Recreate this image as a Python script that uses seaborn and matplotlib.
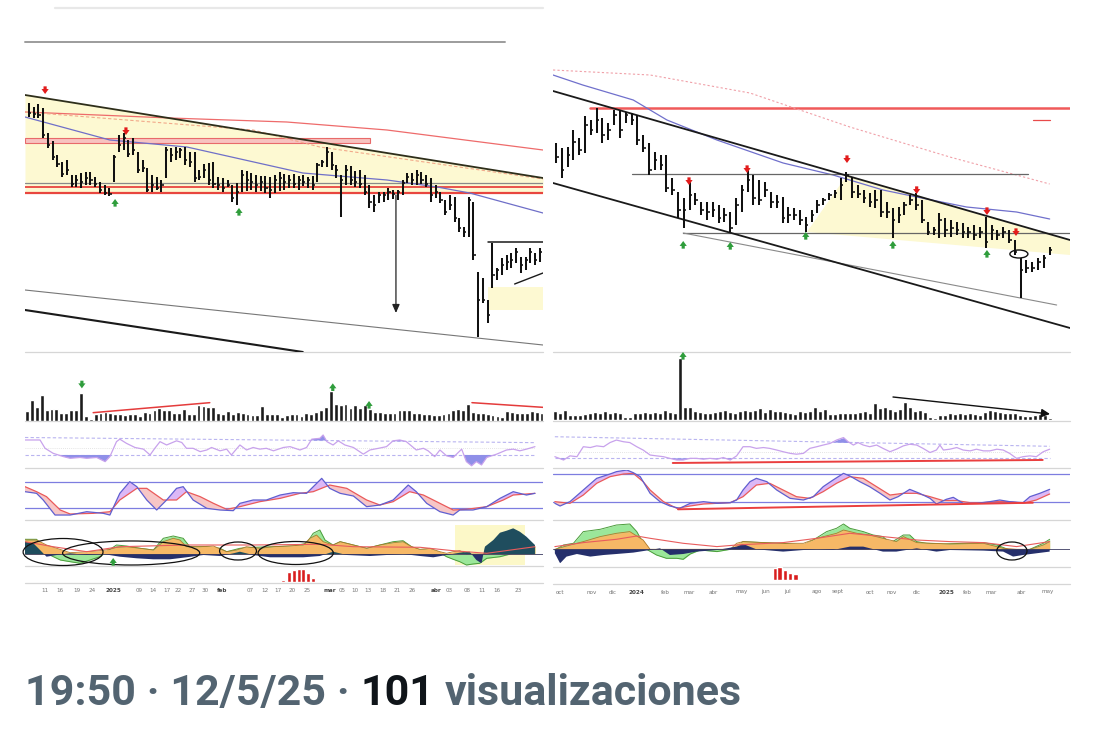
import numpy as np
import matplotlib
matplotlib.use("Agg")
import matplotlib.pyplot as plt
import seaborn as sns
from matplotlib.patches import Ellipse, Rectangle, Polygon
from matplotlib.lines import Line2D
from matplotlib import font_manager
from matplotlib.transforms import blended_transform_factory

# ===================== DATA =====================
# ---- left chart (daily) ----
L_HIGH = [257,253,256,252,227,219,205,198,200,185,
          185,187,188,188,183,178,175,172,205,225,
          227,220,222,208,200,192,185,183,180,213,
          212,213,212,213,208,208,190,196,197,198,
          183,182,180,175,177,190,189,187,185,184,
          184,183,185,188,186,185,186,184,185,183,
          184,197,200,213,208,195,185,195,194,189,
          190,185,175,165,168,168,172,170,170,180,
          187,187,190,188,185,182,175,168,160,165,
          163,142,133,163,158,88,82,60,117,92,
          102,105,107,112,103,103,112,107,112]
L_LOW = [243,242,242,222,212,200,193,183,185,173,
         173,172,175,175,173,167,165,164,178,208,
         210,203,205,187,188,168,168,170,168,182,
         198,200,202,195,193,178,180,182,175,172,
         170,168,173,158,155,168,169,170,168,169,
         167,162,167,169,170,172,172,170,174,172,
         170,178,193,193,190,182,143,175,175,173,
         172,165,152,148,157,158,160,161,160,165,
         177,175,175,176,173,158,162,157,145,150,
         138,128,123,123,100,23,57,37,72,80,
         85,90,92,97,87,90,97,95,98]
L_CLOSE = [247,246,245,225,215,203,196,186,190,176,
           180,178,182,180,176,170,167,166,203,215,
           222,206,210,190,192,170,175,172,175,210,
           205,208,210,200,198,182,183,190,180,176,
           175,172,175,162,168,185,180,178,175,178,
           172,170,180,182,178,180,176,180,178,180,
           175,195,198,208,195,190,180,190,180,178,
           176,168,158,155,165,165,168,166,168,177,
           183,180,185,180,176,165,168,160,148,155,
           142,132,128,160,105,60,60,45,85,90,
           95,98,100,108,95,100,108,100,108]
L_VOL = [30,62,42,78,32,35,35,25,25,32,32,
         85,15,5,22,25,27,25,20,22,18,
         22,20,15,28,25,32,38,32,32,25,
         25,35,22,22,48,45,42,42,25,22,
         30,22,28,25,22,18,18,45,22,20,20,
         12,18,20,20,15,25,22,28,32,42,
         90,50,47,50,40,47,40,47,35,28,
         28,25,25,25,32,32,32,25,25,22,
         20,18,18,20,25,32,35,32,50,28,
         25,25,22,18,15,12,30,28,25,25,
         25,30,28,25]
L_TREND_X, L_TREND_Y = [-0.85, 108.7], [265, 182]
L_MA200_X, L_MA200_Y = [-0.85, 29.8, 54.5, 75.7, 108.7], [248, 242, 238, 230, 210]
L_MADASH_X, L_MADASH_Y = [-0.85, 47.4, 61.5, 108.7], [248, 230, 213, 181]
L_MA50_X = [-0.85, 17.1, 33.4, 57.9, 75.7, 86.3, 93.2, 108.7]
L_MA50_Y = [243, 220, 213, 187, 180, 173, 167, 147]
L_SUPPORT_GRAY, L_SUPPORT_RED1, L_SUPPORT_RED2 = 177, 173, 167
L_ZONE = (-0.85, 72.1, 217, 222)
L_LOW_THIN_X, L_LOW_THIN_Y = [-0.85, 108.7], [70, 15]
L_LOW_THICK_X, L_LOW_THICK_Y = [-0.85, 57.9], [50, 8]
L_TARGET = (77.6, 165, 47)
L_TRI_X, L_TRI_Y = [97, 108.7], [118, 118]
L_RISE_X, L_RISE_Y = [102.7, 108.7], [76, 87]
L_BOX = (97, 108.7, 50, 73)
L_RED_ARROWS = [(3.4, 266), (20.5, 225)]
L_GREEN_ARROWS = [(18.2, 161), (44.4, 152)]
L_VOL_LINES = [([13.5, 37.3], [25, 55]), ([90.8, 105.3], [55, 41])]
L_VOL_ARROWS = [(11.2, 98, False), (62.4, 113, True), (69.8, 60, True)]

L_RSI_X = [-0.85,0.21,2.33,3.4,5.1,7.3,8.7,10.8,12.2,14.3,16.1,17.1,18.5,19.2,20.6,22.4,24.2,25.6,
           26.6,27.7,29.1,31.2,32.3,33.3,34.7,36.2,37.6,38.6,40.4,41.8,42.8,44.6,46.0,47.4,48.8,
           50.2,51.7,53.8,55.2,57.3,58.7,59.8,61.5,62.2,63.0,64.3,65.4,66.8,68.6,70.7,72.1,73.9,
           75.6,77.0,78.4,79.8,81.9,83.4,84.4,85.8,86.9,88.3,89.7,91.5,92.5,93.6,94.6,95.7,96.8,
           98.9,101.0,102.4,103.8,105.2,107.0]
L_RSI_V = [70,70,70,50,38,30,26,28,26,28,18,30,66,72,62,52,48,34,50,66,58,68,64,50,50,42,46,52,
           44,48,34,58,46,52,48,50,44,52,54,46,52,72,74,82,66,58,68,58,52,36,46,50,54,68,70,66,
           46,50,44,30,46,32,28,48,18,8,18,10,28,36,46,48,44,48,54]
L_RSI_UP, L_RSI_LO = (76, 63.6), 34

L_K_X = [-0.85,1.6,3.0,5.5,8.7,12.2,15.7,17.1,19.2,21.3,22.8,24.9,27.0,29.1,31.2,32.6,34.7,37.6,
         40.4,43.2,44.6,47.4,50.2,53.1,55.9,58.7,61.9,63.6,65.8,68.6,71.4,74.2,77.0,80.2,81.9,
         84.1,86.9,89.7,91.1,93.9,96.8,99.6,102.4,105.2,107.0]
L_K_V = [57.5,53.8,38.8,5,5,12.5,8.8,5,53.8,80,68.8,38.8,16.3,38.8,65,68.8,38.8,20,16.3,14.8,
         31.3,38.8,38.8,50,55.3,53.8,87.5,65,53.8,47.8,23.8,27.5,38.8,72.5,57.5,31.3,12.5,5,16.3,
         16.3,23.8,42.5,57.5,50,53.8]
L_D_X = [-0.85,1.6,3.7,6.6,8.7,13.6,17.1,19.2,22.8,24.9,28.4,31.2,33.3,36.2,39.0,41.8,44.6,48.8,
         53.1,57.3,60.1,63.6,67.2,71.4,74.2,77.0,80.5,83.4,86.9,89.7,92.5,96.8,100.3,102.4,105.2,107.0]
L_D_V = [68.8,57.5,46.3,16.3,7.3,8.8,12.5,38.8,65,65,38.8,38.8,57.5,46.3,31.3,17.8,23.8,35,42.5,
         53.8,57.5,72.5,65,38.8,27.5,35,57.5,50,31.3,16.3,17.8,23.8,38.8,50,52.3,53.8]

L_OSC_O_X = [-0.85,1.6,3.7,5.85,8.7,12.2,15.0,17.1,18.5,20.6,23.5,26.3,28.4,30.5,31.9,33.3,36.2,
             39.0,41.8,43.9,46.0,48.8,51.7,54.5,58.0,59.4,60.8,62.2,64.3,65.8,68.6,71.4,74.2,77.0,
             79.1,80.9,82.7,84.8,86.9,88.3,89.7,91.1,92.5,93.9,96.8,99.6,102.4,105.2,107.0]
L_OSC_O_V = [14,14,9,5.7,1.3,2.3,3.3,4.7,6.7,7.3,5.7,4,12.3,15.7,14,7.3,7.3,8,2.3,4,7.3,5.7,7.3,
             8,9,15.7,19,12.3,9,12.3,9,5.7,9,11.3,12.3,7.3,4.7,5.7,2.3,0.7,2.3,3.3,0,0,0,1.3,3.3,
             5.7,6.7]
L_OSC_G_X = [-0.85,1.6,3.0,4.4,6.6,8.7,10.8,12.9,15.0,16.4,18.5,20.6,23.5,26.3,28.4,30.5,32.6,
             34.0,37.6,40.4,41.8,44.6,47.4,51.7,55.9,58.7,60.1,61.5,62.6,64.3,65.8,68.6,71.4,74.2,
             77.0,79.1,80.9,82.7,84.8,86.9,88.3,89.7,91.1,92.5,93.9,95.3,96.8,99.6,102.4,105.2,107.0]
L_OSC_G_V = [14.7,14.7,7.3,-1,-6,-7.7,-9.3,-6,-2.7,2.3,9,8,5.7,4,15.7,18,15.7,7.3,7.3,5.7,2.3,
             5.7,6.7,7.3,8,10.7,20.7,24,14,9,12.3,9,5.7,9,12.3,13.3,7.3,4,4.7,1.3,-2.7,-5.3,-7.7,
             -11,-10,-9.3,-4.3,-2.7,0.7,4.7,6.7]
L_OSC_N_X = [-0.85,0.92,2.33,3.7,5.85,8.7,12.2,15.7,19.2,22.8,26.3,29.8,33.3,36.9,40.4,43.2,44.6,
             47.4,51.0,54.5,58.0,61.5,64.3,67.2,72.1,75.6,79.1,82.7,85.5,88.3,91.1,93.2,94.6,95.7,
             96.4,98.2,99.6,101.0,102.4,103.8,105.2,107.0]
L_OSC_N_V = [12.3,10.7,4,-2.7,-1,0.7,-1,0,-2.7,-4.3,-5.3,-5.3,-3.3,-1,-2,0.7,2.3,-1,-3.3,-3.3,
             -3.3,-2,2.3,-1,-2,-1,0,-2,-3.3,-1,1.3,2.3,-6,-9.3,7.3,14,21.3,23.3,25.7,22.3,17.3,9]
L_OSC_R_X = [-0.85,5.1,12.2,19.2,33.3,47.4,61.5,68.6,82.7,89.7,96.8,107.0]
L_OSC_R_V = [12.3,7.3,2.3,7.3,9,9,9.7,7.3,6.7,3.3,0.7,7.3]
L_ELLIPSES = [(7.2, 2, 16.9, 27), (21.6, 1, 29, 24), (44.2, 3, 7.8, 18), (56.4, 1, 15.9, 23)]
L_OSC_BOX = (90.1, 104.9, -11, 29)
L_OSC_ARROW = (17.8, -4)

L_HIST_X = [53.8, 54.9, 56.0, 57.0, 58.0, 59.1, 60.1, 61.2, 64.7, 65.7, 66.7]
L_HIST_H = [1.7, 10, 11.7, 12.7, 13.3, 9.3, 4, 0.7, 1.5, 1.5, 1.0]

L_TICK_POS = [3.4,6.6,10.1,13.3,17.8,23.3,26.2,29.2,31.5,34.5,37.2,40.8,46.7,49.9,52.6,55.6,58.8,
              63.6,66.2,68.9,71.7,74.8,77.8,81.0,86.2,88.8,92.6,95.8,98.9,103.4]
L_TICK_LBL = ['11','16','19','24','2025','09','14','17','22','27','30','feb','07','12','17','20',
              '25','mar','05','10','13','18','21','26','abr','03','08','11','16','23']
L_BOLD = {'2025', 'feb', 'mar', 'abr'}

# ---- right chart (weekly) ----
R_HIGH = [227,222,223,240,232,254,250,262,252,247,
          260,260,258,257,255,235,227,218,215,215,
          192,178,172,188,177,168,168,168,165,162,
          158,172,185,200,195,190,188,178,175,173,
          163,162,160,153,160,170,172,177,180,192,
          198,193,185,180,177,180,180,168,162,163,
          168,175,177,170,148,143,157,152,150,148,
          147,143,145,143,153,145,140,143,140,130,
          112,110,108,112,115,123]
R_LOW = [207,192,203,210,215,217,235,237,227,230,
         245,232,247,245,225,218,195,200,200,178,
         175,152,142,160,165,155,150,153,147,148,
         138,145,158,178,165,165,173,162,162,147,
         147,150,145,138,148,157,165,170,172,170,
         188,172,172,167,163,162,153,152,132,147,
         155,165,160,147,135,135,132,133,133,135,
         132,132,130,132,122,130,130,132,127,115,
         72,97,98,100,102,115]
R_CLOSE = [213,200,215,228,220,245,240,250,235,240,
           255,240,255,250,230,222,200,210,205,182,
           180,160,160,175,170,160,158,160,152,155,
           142,165,180,190,172,170,180,168,168,152,
           155,155,150,145,155,165,170,175,177,185,
           195,178,176,172,168,170,158,158,150,155,
           165,170,165,150,138,140,150,140,142,140,
           138,138,135,138,128,140,135,138,130,118,
           100,102,102,108,112,120]
R_VOL = [27,20,30,15,15,15,18,20,25,20,27,20,25,22,8,10,20,22,25,22,
         25,22,30,25,20,185,38,38,28,25,20,22,25,28,30,25,22,27,30,28,
         30,35,25,32,27,27,25,20,18,27,25,28,40,27,32,17,17,20,20,22,
         22,25,27,22,50,35,40,32,28,32,55,38,27,30,25,10,5,15,15,20,
         17,22,17,20,17,15,25,30,27,25,20,20,20,15,12,12,15,17,15,5]
R_RES_X, R_RES_Y = [5.85, 88.5], [262, 262]
R_RES2_X, R_RES2_Y = [82.1, 85.0], [250, 250]
R_MA200_X, R_MA200_Y = [-0.52, 16.2, 33.4, 50.6, 67.8, 85.0], [300, 295, 277, 243, 213, 186]
R_MA50_X = [-0.52, 4.6, 13.3, 19.1, 27.7, 39.1, 47.7, 56.3, 62.1, 70.7, 79.3, 85.0]
R_MA50_Y = [295, 285, 270, 250, 230, 207, 195, 180, 173, 163, 158, 151]
R_CH_UP_X, R_CH_UP_Y = [-0.52, 88.5], [279, 130]
R_CH_DN_X, R_CH_DN_Y = [-0.52, 88.5], [187, 42]
R_H1_X, R_H1_Y = [13.1, 81.2], [196, 196]
R_H2_X, R_H2_Y = [21.9, 88.5], [137, 137]
R_THIN_X, R_THIN_Y = [21.9, 86.2], [137, 65]
R_ZONE_X, R_ZONE_Y = [43.2, 50.1, 88.5, 88.5], [138, 195, 130, 115]
R_CIRCLE = (79.7, 116, 3.1, 8)
R_RED_ARROWS = [(22.9, 185), (32.9, 197), (50.1, 207), (62.1, 176), (74.2, 155), (79.2, 134)]
R_GREEN_ARROWS = [(21.9, 129), (30.0, 128), (43.0, 138), (58.0, 129), (74.2, 120)]
R_VOL_LINE = ([67.6, 99], [69, 18])
R_VOL_ARROW = (25.6, 204)

R_RSI_X = [-0.2,1.3,2.4,3.6,4.7,5.9,7.0,8.2,9.3,10.4,11.6,12.7,13.9,15.0,16.2,17.3,18.5,19.6,20.8,
           21.9,23.1,24.2,25.4,26.5,27.7,28.8,30.0,31.1,32.2,33.4,34.5,35.7,36.8,38.0,39.1,40.3,
           41.4,42.6,43.7,44.9,46.0,47.2,48.3,49.5,50.3,51.2,52.0,52.9,54.0,55.2,56.3,57.5,58.6,
           59.8,60.9,62.1,63.2,64.4,65.5,66.1,66.7,67.8,69.0,70.1,71.3,72.4,73.6,74.7,75.9,77.0,
           78.1,79.3,80.4,81.6,82.7,83.9,85.0]
R_RSI_V = [38,30,40,38,62,60,64,62,72,78,74,72,62,54,42,40,38,34,30,30,34,34,32,34,32,36,30,40,
           62,62,58,60,58,54,50,46,44,46,58,62,66,70,78,84,74,66,72,66,62,66,58,50,56,64,68,66,
           58,48,54,66,54,56,60,54,52,56,52,52,56,54,46,34,38,40,38,50,56]
R_RSI_UP, R_RSI_LO = (86, 63), 34
R_RSI_LINE = ([20.1, 83.8], [22.9, 30.1])

R_K_X = [-0.2,0.7,2.4,4.7,7.0,9.3,10.4,12.2,13.3,14.5,16.2,17.9,19.6,21.3,23.1,25.4,27.7,30.0,
         31.1,32.2,33.4,34.5,36.3,38.0,40.3,42.6,44.3,46.0,47.7,49.5,50.6,52.3,54.0,55.8,57.5,
         58.9,60.9,62.6,64.4,65.5,67.2,68.4,70.1,72.4,74.7,76.4,78.1,80.4,81.6,83.3,85.0]
R_K_V = [16.4,10.6,20,45.3,70.6,80,85.1,88.7,82.9,74.2,38.1,20,10.6,5.5,16.4,20,16.4,17.8,23.6,
         45.3,63.4,70.6,63.4,45.3,27.2,23.6,30.8,52.5,67,81.4,75.7,63.4,52.5,38.1,23.6,30.8,46.7,
         38.1,27.2,14.9,25.1,29.4,16.4,16.4,20,23.6,20,17.8,30.8,38.1,46.7]
R_D_X = [-0.2,2.4,4.7,7.0,9.3,11.6,13.3,15.0,16.2,18.5,20.8,23.1,25.4,27.7,30.0,32.2,34.5,36.8,
         39.1,41.4,43.7,46.0,48.3,50.6,52.9,55.2,57.5,59.8,62.1,64.4,66.7,69.0,71.3,73.6,75.9,
         78.1,80.4,82.7,85.0]
R_D_V = [20,16.4,34.4,59.8,74.2,80,81.4,63.4,45.3,20,5.5,10.6,14.9,16.4,17.8,30.8,56.1,59.8,45.3,
         30.8,27.2,41.7,59.8,74.2,70.6,52.5,34.4,38.1,38.1,30.8,22.2,22.2,17.8,17.8,20,20,16.4,
         23.6,36.6]
R_STOCH_LINE = ([21.0, 82.1], [3.4, 17.7])

R_OSC_G_X = [-0.2,1.3,3.0,4.7,7.6,10.4,12.7,13.9,15.6,17.3,19.0,20.8,21.9,23.1,24.8,27.7,30.0,
             31.1,32.2,35.7,39.1,42.6,44.3,46.6,48.3,49.5,50.6,52.9,54.6,56.3,57.5,59.8,60.9,62.1,
             63.8,66.7,70.1,73.6,75.9,78.1,79.3,81.6,83.9,85.0]
R_OSC_G_V = [-0.7,4.3,6,17.7,20,24.3,25.3,17.7,0,-5.7,-9,-9,-10,-4.7,-0.7,-2.3,0,2.7,7.7,6.7,6,
             4.3,9.3,17.7,21,25.3,21,17.7,14.3,12.7,6,14.3,14.3,7.7,6,5.3,6,6.7,4.3,-0.7,-2.3,0,6,10]
R_OSC_O_X = [-0.2,1.8,4.7,7.6,10.4,12.7,15.0,16.2,30.0,31.1,32.2,35.7,39.1,42.6,44.9,48.3,49.5,
             51.8,54.0,56.3,58.6,59.8,62.1,67.8,73.6,77.0,79.3,81.6,83.9,85.0]
R_OSC_O_V = [0,3.3,7.7,12.7,16,17.7,9.3,0,0,6,7.7,6.7,6,6,11,16,19.3,16,14.3,11,7.7,12.7,6.7,
             5.3,6,1,0,0,4.3,7.7]
R_OSC_N_X = [-0.2,0.7,1.8,3.6,5.9,8.2,10.4,13.3,16.2,17.9,19.6,21.9,24.2,27.7,31.1,32.2,34.5,
             39.1,42.6,44.9,47.7,50.6,52.9,56.3,58.6,62.1,65.5,67.8,73.6,77.0,78.7,80.4,82.7,85.0]
R_OSC_N_V = [-4,-14,-7.3,-4.7,-7.3,-5.7,-4.7,-3.3,-0.7,1,-5.7,-4.7,-2.3,-0.7,2.7,5.3,0,-2.3,
             -0.7,0,-0.7,2.7,2.7,-2.3,-2.3,1,-2.3,-0.7,-1.3,-2.3,-7.3,-5.7,-4,-2.3]
R_OSC_R_X = [-0.2,4.7,10.4,13.9,16.2,21.9,27.7,31.1,39.1,44.9,50.6,56.3,62.1,67.8,73.6,79.3,85.0]
R_OSC_R_V = [2.7,6.7,10,13.3,11,6,2.7,4.3,6.7,11,16,12.7,9.3,7.7,6.7,2.7,7.7]
R_ELLIPSE = (78.5, -1.7, 5.2, 18)

R_HIST_X = [37.7, 38.5, 39.4, 40.3, 41.2]
R_HIST_H = [11.7, 13.3, 10, 6.7, 6]

R_TICK_POS = [0.7,6.2,9.8,13.9,18.9,22.9,27.0,32.0,36.0,39.9,44.9,48.5,54.0,57.8,62.1,67.3,70.9,
              75.0,80.2,84.7]
R_TICK_LBL = ['oct','nov','dic','2024','feb','mar','abr','may','jun','jul','ago','sept','oct',
              'nov','dic','2025','feb','mar','abr','may']
R_BOLD = {'2024', '2025'}

FOOTER = [("19:50 · 12/5/25 ·", '#536471'), ("101", '#0f1419'), ("visualizaciones", '#536471')]

# ===================== STYLE =====================
W, H = 1096, 752
sns.set_theme(style="white")
plt.rcParams['font.family'] = ['DejaVu Sans']

RED = '#e21b1b'
GREEN = '#2f9d3c'
YELLOW = '#fdf9d2'

fig = plt.figure(figsize=(W / 100, H / 100), dpi=100)
fig.patch.set_facecolor('white')


def px_axes(x0, y0, x1, y1, z=1):
    ax = fig.add_axes([x0 / W, 1 - y1 / H, (x1 - x0) / W, (y1 - y0) / H])
    ax.set_zorder(z)
    ax.patch.set_alpha(0)
    return ax


def finish(ax, xlim, ylim):
    ax.set_xlim(*xlim)
    ax.set_ylim(*ylim)
    ax.set_axis_off()


def hline_px(x0, x1, y, color, lw):
    fig.add_artist(Line2D([x0 / W, x1 / W], [1 - y / H, 1 - y / H], transform=fig.transFigure,
                          color=color, lw=lw, zorder=0))


def line(ax, x, y, color, lw=1.0, ls='-', z=3, alpha=1.0):
    sns.lineplot(x=np.asarray(x, float), y=np.asarray(y, float), ax=ax, color=color,
                 linewidth=lw, linestyle=ls, zorder=z, legend=False, sort=False, alpha=alpha)


def ohlc(ax, hi, lo, cl, lw=1.45, tick=0.45):
    x = np.arange(len(hi))
    ax.vlines(x, lo, hi, color='#111111', lw=lw, zorder=6)
    ax.hlines(cl, x, x + tick, color='#111111', lw=lw * 0.8, zorder=6)


def arrow(ax, x, y, up, color, size=5.5):
    off = (0, -size) if up else (0, size)
    ax.annotate('', xy=(x, y), xycoords='data', xytext=off, textcoords='offset points',
                arrowprops=dict(arrowstyle='simple,head_length=0.55,head_width=0.8,tail_width=0.35',
                                color=color, lw=0, shrinkA=0, shrinkB=0, mutation_scale=6.5),
                annotation_clip=False, zorder=9)


def grid_fill(xp, vp, n=900):
    xs = np.linspace(xp[0], xp[-1], n)
    return xs, np.interp(xs, xp, vp)


def oscillator(ax, gx, gv, ox, ov, nx, nv, rx, rv, pos_dark):
    xs, g = grid_fill(gx, gv)
    ax.fill_between(xs, 0, g, color='#9be79a', lw=0, zorder=2)
    line(ax, gx, gv, '#4a9c3a', lw=0.7, z=2.1)
    xs, o = grid_fill(ox, ov)
    ax.fill_between(xs, 0, o, color='#f6b866', lw=0, zorder=3)
    line(ax, ox, ov, '#b07a2a', lw=0.6, z=3.1)
    xs, nn = grid_fill(nx, nv)
    ax.fill_between(xs, 0, nn, where=nn < 0, interpolate=True, color='#252f6b', lw=0, zorder=4)
    ax.fill_between(xs, 0, nn, where=nn >= 0, interpolate=True, color=pos_dark, lw=0, zorder=4)
    line(ax, rx, rv, '#e85c5c', lw=0.8, z=5)
    ax.axhline(0, color='#3a3a60', lw=0.6, zorder=4.5)


def stoch(ax, kx, kv, dx, dv):
    xs = np.linspace(max(kx[0], dx[0]), min(kx[-1], dx[-1]), 900)
    k = np.interp(xs, kx, kv)
    d = np.interp(xs, dx, dv)
    ax.fill_between(xs, k, d, where=k >= d, interpolate=True, color='#dcb8f6', lw=0, zorder=2)
    ax.fill_between(xs, k, d, where=k < d, interpolate=True, color='#f7c6c6', lw=0, zorder=2)
    ax.axhline(80, color='#7d7de0', lw=0.9, zorder=1)
    ax.axhline(20, color='#7d7de0', lw=0.9, zorder=1)
    line(ax, dx, dv, '#ea5a5a', lw=0.9, z=3)
    line(ax, kx, kv, '#5f5fd0', lw=0.9, z=4)


def rsi(ax, x, v, up, lo, x0, x1):
    xs, r = grid_fill(x, v)
    upper = np.interp(xs, [x0, x1], list(up))
    ax.fill_between(xs, r, upper, where=r > upper, interpolate=True, color='#8f8fe8', lw=0, zorder=2)
    ax.fill_between(xs, r, lo, where=r < lo, interpolate=True, color='#8f8fe8', lw=0, zorder=2)
    line(ax, [x0, x1], list(up), '#b9b4f0', lw=0.8, ls=(0, (3, 2)), z=1)
    line(ax, [x0, x1], [lo, lo], '#b9b4f0', lw=0.8, ls=(0, (3, 2)), z=1)
    line(ax, [x0, x1], [50, 50], '#dcdcdc', lw=0.6, ls=(0, (1, 1.5)), z=1)
    line(ax, x, v, '#c8a2ec', lw=0.9, z=3)


def date_labels(ax, pos, lbl, bold, ypix):
    tr = blended_transform_factory(ax.transData, fig.transFigure)
    for p, t in zip(pos, lbl):
        ax.text(p, 1 - ypix / H, t, transform=tr, ha='center', va='center', fontsize=4.1,
                color='#444444' if t in bold else '#777777',
                fontweight='bold' if t in bold else 'normal', clip_on=False)


# ---------------- top decoration lines ----------------
hline_px(55, 543, 8, '#e8e8e8', 1.6)
hline_px(25, 505, 42, '#9c9c9c', 1.4)

# separators
for y in (352, 421, 468, 520, 566, 583):
    hline_px(25, 543, y, '#d6d6d6', 0.9)
for y in (352, 421, 468, 520, 567, 584):
    hline_px(553, 1070, y, '#d6d6d6', 0.9)

# ===================== LEFT CHART =====================
LX = (-0.85, 108.7)
ax = px_axes(25, 85, 543, 352)
xs = np.linspace(*LX, 50)
ax.fill_between(xs, np.interp(xs, L_TREND_X, L_TREND_Y), L_SUPPORT_RED2, color=YELLOW, lw=0, zorder=0)
ax.add_patch(Rectangle((L_ZONE[0], L_ZONE[2]), L_ZONE[1] - L_ZONE[0], L_ZONE[3] - L_ZONE[2],
                       facecolor='#f7c3c0', edgecolor='#e86a6a', lw=0.8, zorder=1))
ax.axhline(L_SUPPORT_GRAY, color='#8a8a8a', lw=0.9, zorder=2)
ax.axhline(L_SUPPORT_RED1, color='#e8463f', lw=1.3, zorder=2)
ax.axhline(L_SUPPORT_RED2, color='#e8463f', lw=1.6, zorder=2)
line(ax, L_MA200_X, L_MA200_Y, '#ee6b6b', lw=0.9, z=2)
line(ax, L_MADASH_X, L_MADASH_Y, '#f2a98a', lw=0.8, ls=(0, (3, 2)), z=2)
line(ax, L_MA50_X, L_MA50_Y, '#6f6fc8', lw=0.9, z=2)
line(ax, L_TREND_X, L_TREND_Y, '#2e2e1a', lw=1.3, z=3)
line(ax, L_LOW_THIN_X, L_LOW_THIN_Y, '#777777', lw=0.8, z=3)
line(ax, L_LOW_THICK_X, L_LOW_THICK_Y, '#1a1a1a', lw=1.5, z=3)
ax.add_patch(Rectangle((L_BOX[0], L_BOX[2]), L_BOX[1] - L_BOX[0], L_BOX[3] - L_BOX[2],
                       facecolor=YELLOW, edgecolor='none', zorder=1))
line(ax, L_TRI_X, L_TRI_Y, '#1a1a1a', lw=1.1, z=3)
line(ax, L_RISE_X, L_RISE_Y, '#1a1a1a', lw=1.0, z=3)
ax.annotate('', xy=(L_TARGET[0], L_TARGET[2]), xytext=(L_TARGET[0], L_TARGET[1]),
            arrowprops=dict(arrowstyle='-|>,head_length=0.5,head_width=0.22', color='#222222',
                            lw=0.9, shrinkA=0, shrinkB=0, mutation_scale=10), zorder=4)
ohlc(ax, L_HIGH, L_LOW, L_CLOSE)
for x, y in L_RED_ARROWS:
    arrow(ax, x, y, False, RED)
for x, y in L_GREEN_ARROWS:
    arrow(ax, x, y, True, GREEN)
finish(ax, LX, (8, 275))

# volume
axv = px_axes(25, 370, 543, 421)
axv.bar(np.arange(len(L_VOL)), L_VOL, width=0.78, color='#1c1c1c', zorder=2)
for xx, yy in L_VOL_LINES:
    line(axv, xx, yy, '#e43b3b', lw=1.1, z=3)
for x, y, up in L_VOL_ARROWS:
    arrow(axv, x, y, up, GREEN)
finish(axv, (-0.41, 105.3), (0, 153))

# RSI
axr = px_axes(25, 425, 543, 468)
rsi(axr, L_RSI_X, L_RSI_V, L_RSI_UP, L_RSI_LO, L_RSI_X[0], L_RSI_X[-1])
finish(axr, LX, (2.7, 106))

# stochastic
axs = px_axes(25, 472, 543, 520)
stoch(axs, L_K_X, L_K_V, L_D_X, L_D_V)
finish(axs, LX, (-6.2, 101.8))

# oscillator
axo = px_axes(25, 525, 543, 566)
axo.add_patch(Rectangle((L_OSC_BOX[0], L_OSC_BOX[2]), L_OSC_BOX[1] - L_OSC_BOX[0],
                        L_OSC_BOX[3] - L_OSC_BOX[2], facecolor='#fcf8c8', edgecolor='none', zorder=0))
oscillator(axo, L_OSC_G_X, L_OSC_G_V, L_OSC_O_X, L_OSC_O_V, L_OSC_N_X, L_OSC_N_V,
           L_OSC_R_X, L_OSC_R_V, '#1f4d5e')
for cx, cy, w, h in L_ELLIPSES:
    axo.add_patch(Ellipse((cx, cy), w, h, facecolor='none', edgecolor='#111111', lw=0.9, zorder=7,
                          clip_on=False))
arrow(axo, L_OSC_ARROW[0], L_OSC_ARROW[1], True, GREEN)
finish(axo, LX, (-12, 29))

# histogram
axh = px_axes(25, 566, 543, 582)
axh.bar(L_HIST_X, L_HIST_H, width=0.85, color='#d91e1e', zorder=2)
finish(axh, LX, (0, 16))
date_labels(ax, L_TICK_POS, L_TICK_LBL, L_BOLD, 590)

# ===================== RIGHT CHART =====================
RX = (-0.52, 88.5)
bx = px_axes(553, 62, 1070, 350)
bx.add_patch(Polygon(list(zip(R_ZONE_X, R_ZONE_Y)), closed=True, facecolor=YELLOW,
                     edgecolor='none', zorder=0))
line(bx, R_RES_X, R_RES_Y, '#f05a5a', lw=1.8, z=2)
line(bx, R_RES2_X, R_RES2_Y, '#e84a4a', lw=0.9, z=2)
line(bx, R_MA200_X, R_MA200_Y, '#f0a0a8', lw=0.8, ls=(0, (2, 2)), z=2)
line(bx, R_MA50_X, R_MA50_Y, '#7070cc', lw=0.9, z=2)
line(bx, R_H1_X, R_H1_Y, '#666666', lw=0.9, z=2)
line(bx, R_H2_X, R_H2_Y, '#666666', lw=0.9, z=2)
line(bx, R_THIN_X, R_THIN_Y, '#8a8a8a', lw=0.8, z=2)
line(bx, R_CH_UP_X, R_CH_UP_Y, '#1a1a1a', lw=1.3, z=3)
line(bx, R_CH_DN_X, R_CH_DN_Y, '#1a1a1a', lw=1.3, z=3)
ohlc(bx, R_HIGH, R_LOW, R_CLOSE, lw=1.45, tick=0.45)
bx.add_patch(Ellipse((R_CIRCLE[0], R_CIRCLE[1]), R_CIRCLE[2], R_CIRCLE[3], facecolor='none',
                     edgecolor='#111111', lw=1.0, zorder=7))
for x, y in R_RED_ARROWS:
    arrow(bx, x, y, False, RED)
for x, y in R_GREEN_ARROWS:
    arrow(bx, x, y, True, GREEN)
finish(bx, RX, (20, 308))

bv = px_axes(553, 352, 1070, 420)
bv.bar(np.arange(len(R_VOL)), R_VOL, width=0.78, color='#1c1c1c', zorder=2)
bv.annotate('', xy=(R_VOL_LINE[0][1], R_VOL_LINE[1][1]), xytext=(R_VOL_LINE[0][0], R_VOL_LINE[1][0]),
            arrowprops=dict(arrowstyle='-|>,head_length=0.5,head_width=0.25', color='#111111',
                            lw=1.0, shrinkA=0, shrinkB=0, mutation_scale=10), zorder=4)
arrow(bv, R_VOL_ARROW[0], R_VOL_ARROW[1], True, GREEN)
finish(bv, (-0.4, 103), (0, 204))

br = px_axes(553, 428, 1070, 470)
rsi(br, R_RSI_X, R_RSI_V, R_RSI_UP, R_RSI_LO, R_RSI_X[0], R_RSI_X[-1])
line(br, R_RSI_LINE[0], R_RSI_LINE[1], '#ea3f3f', lw=1.4, z=5)
finish(br, RX, (6, 107))

bs = px_axes(553, 470, 1070, 520)
stoch(bs, R_K_X, R_K_V, R_D_X, R_D_V)
line(bs, R_STOCH_LINE[0], R_STOCH_LINE[1], '#ea3f3f', lw=1.4, z=5)
finish(bs, RX, (-19.8, 88.7))

bo = px_axes(553, 522, 1070, 568)
oscillator(bo, R_OSC_G_X, R_OSC_G_V, R_OSC_O_X, R_OSC_O_V, R_OSC_N_X, R_OSC_N_V,
           R_OSC_R_X, R_OSC_R_V, '#252f6b')
bo.add_patch(Ellipse((R_ELLIPSE[0], R_ELLIPSE[1]), R_ELLIPSE[2], R_ELLIPSE[3], facecolor='none',
                     edgecolor='#111111', lw=0.9, zorder=7))
finish(bo, RX, (-18.7, 27.3))

bh = px_axes(553, 566, 1070, 580)
bh.bar(R_HIST_X, R_HIST_H, width=0.8, color='#d91e1e', zorder=2)
finish(bh, RX, (0, 14))
date_labels(bx, R_TICK_POS, R_TICK_LBL, R_BOLD, 592)

# ===================== FOOTER TEXT =====================
names = {f.name for f in font_manager.fontManager.ttflist}
TFONT = 'DejaVu Sans'
for cand in ['Roboto', 'Liberation Sans', 'Roboto Condensed']:
    if cand in names:
        TFONT = cand
        break

renderer = fig.canvas.get_renderer()


def width_of(s, size):
    t = fig.text(0, 0, s, fontsize=size, family=TFONT, fontweight='bold')
    w = t.get_window_extent(renderer).width
    t.remove()
    return w


size = 31.0
space = width_of('x x', size) - width_of('xx', size)
total = sum(width_of(s, size) for s, _ in FOOTER) + 2 * space
target = 716.0
size *= target / total
space = width_of('x x', size) - width_of('xx', size)
xpos = 25.0
for s, c in FOOTER:
    t = fig.text(xpos / W, 1 - 705 / H, s, fontsize=size, family=TFONT, fontweight='bold',
                 color=c, ha='left', va='baseline')
    xpos += t.get_window_extent(renderer).width + space

fig.savefig('out.png', dpi=100, facecolor='white')
